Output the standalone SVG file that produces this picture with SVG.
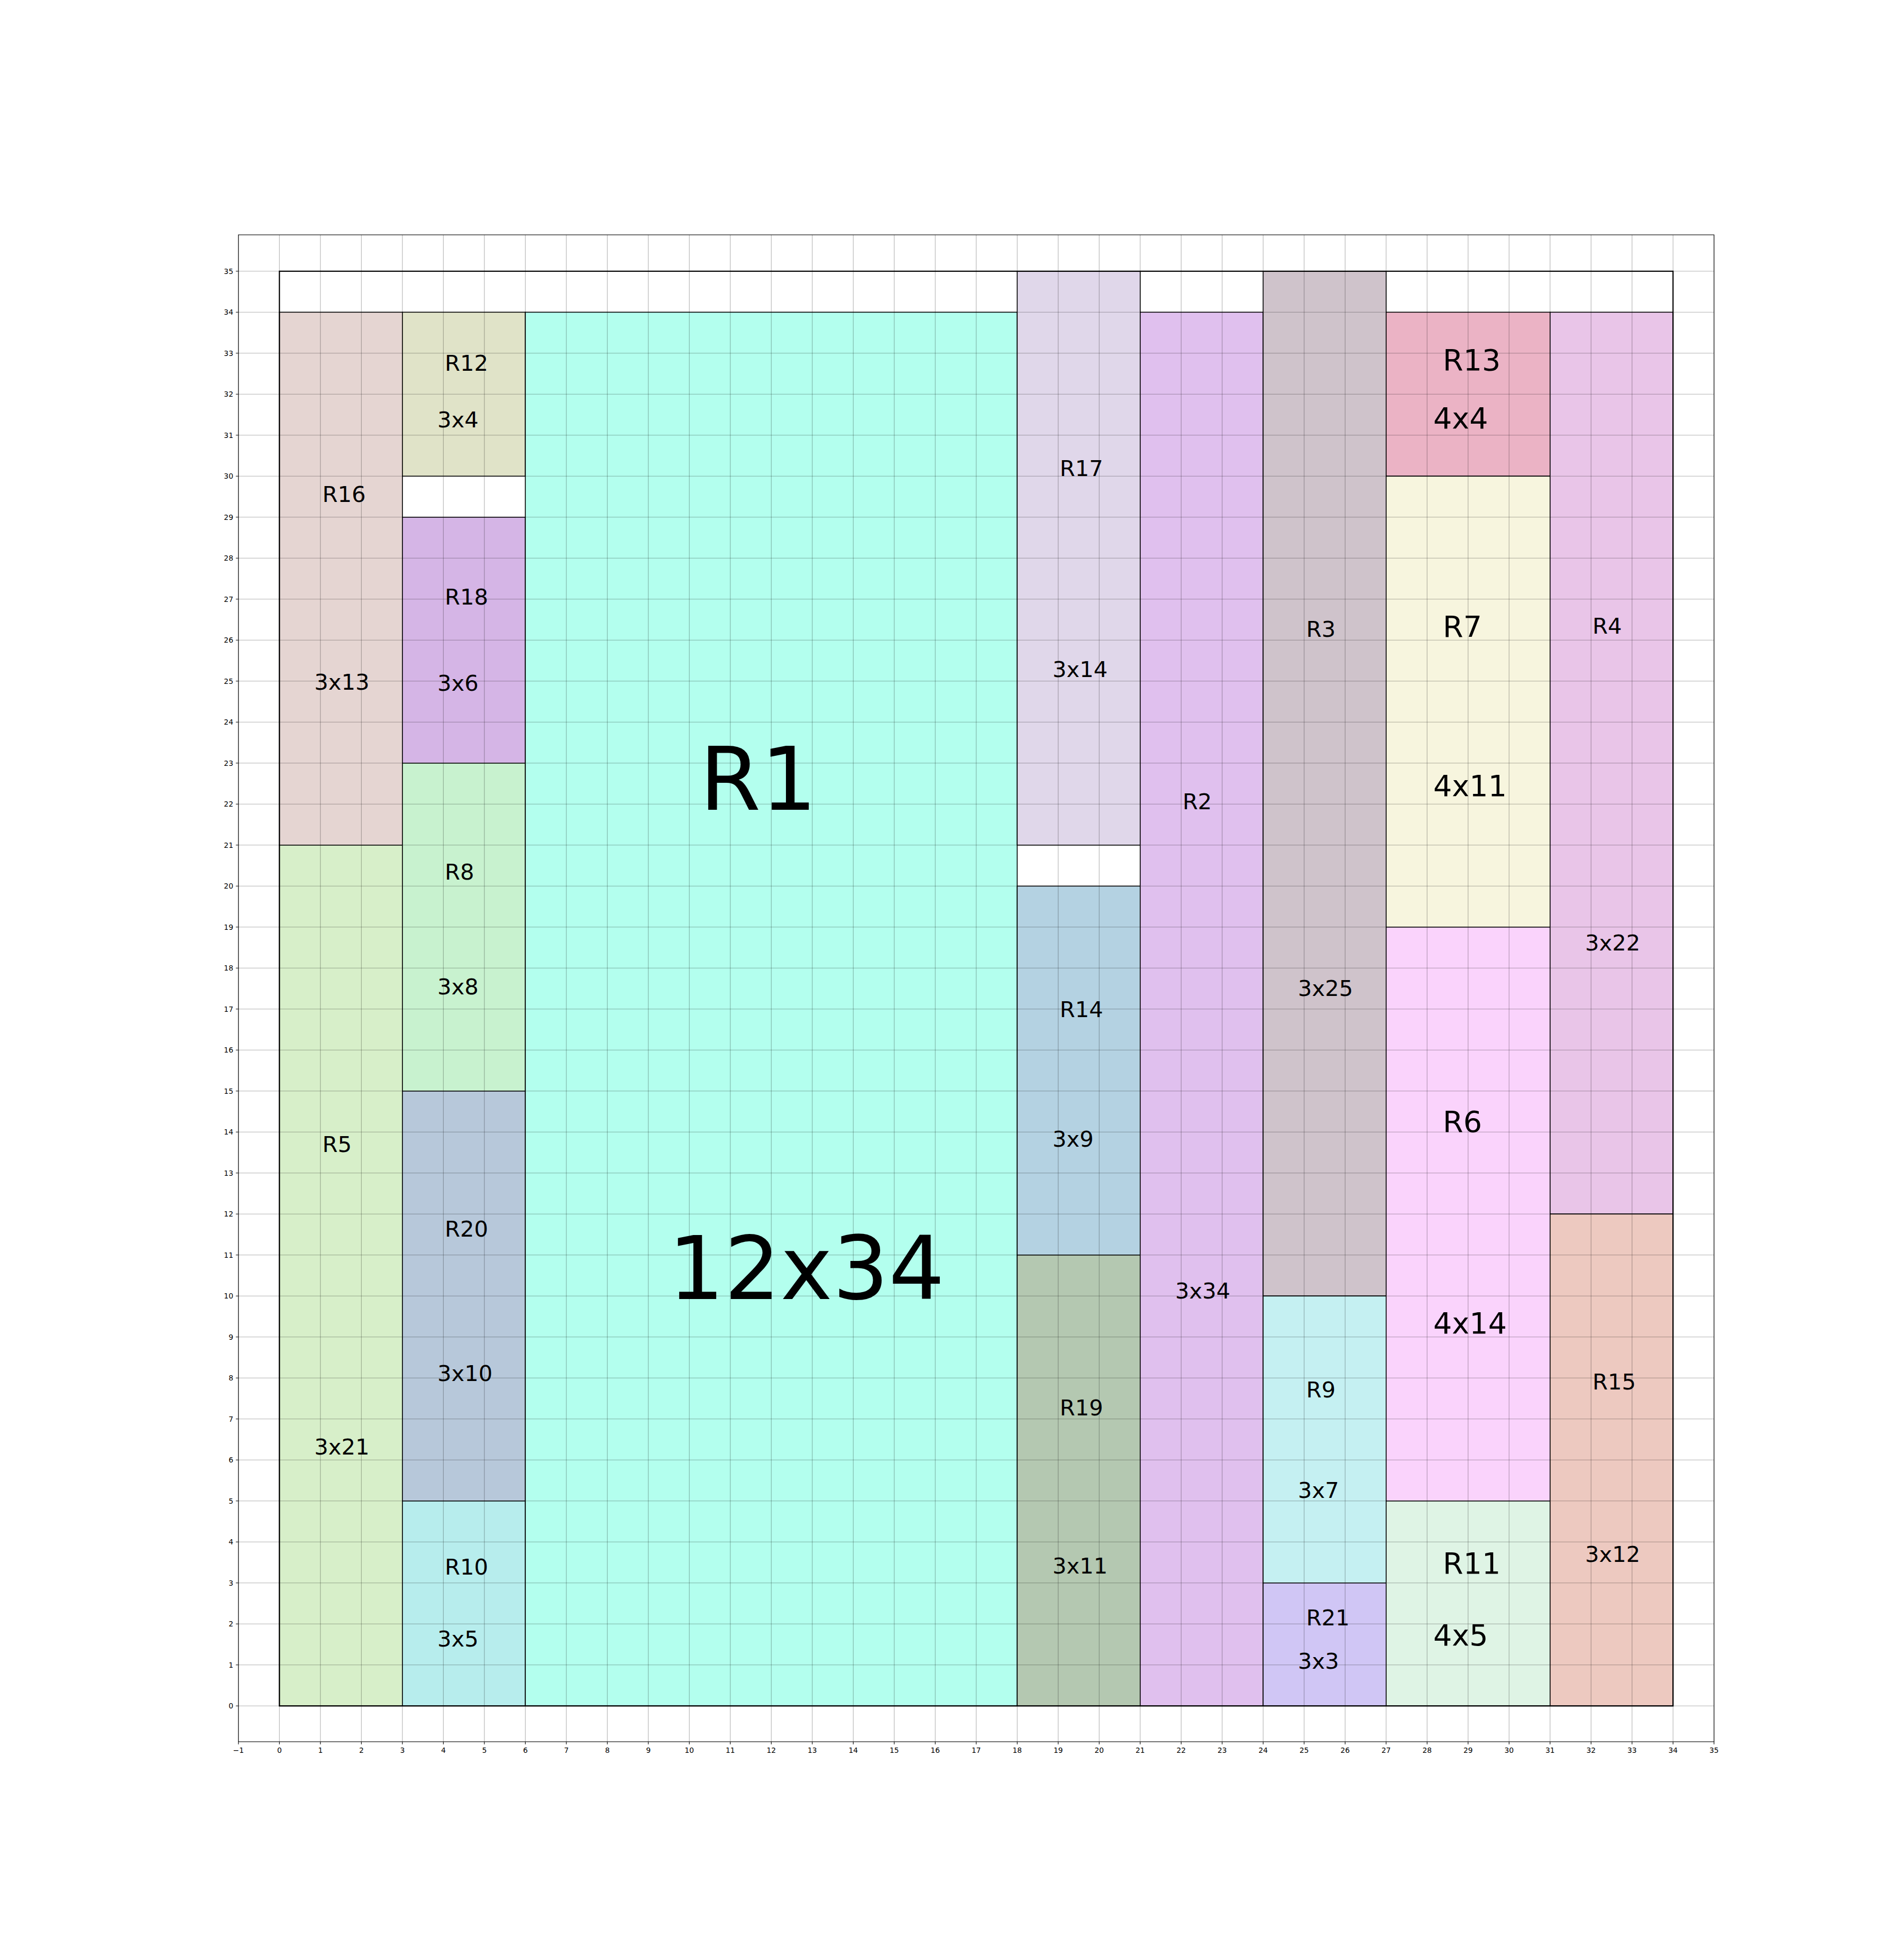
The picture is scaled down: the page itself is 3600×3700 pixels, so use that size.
<svg xmlns="http://www.w3.org/2000/svg" width="3600" height="3700" viewBox="0 0 3600 3700">
<style>
.bg{fill:#ffffff}
.r{stroke:#000000;stroke-width:1.6}
.box{fill:none;stroke:#000000;stroke-width:2.2}
.grid{fill:none;stroke:#000000;stroke-opacity:0.3;stroke-width:1.1}
.frame{fill:none;stroke:#000000;stroke-width:1.1}
.tick{fill:none;stroke:#000000;stroke-width:1.1}
text{font-family:"DejaVu Sans","Liberation Sans",sans-serif;fill:#000000}
.s{font-size:41.7px}
.m{font-size:55.6px}
.l{font-size:166.7px}
.tx{font-size:13.9px;text-anchor:middle}
.ty{font-size:13.9px;text-anchor:end}
</style>
<rect class="bg" x="0" y="0" width="3600" height="3700"/>

<g id="container">
<rect x="528.3" y="512.8" width="2635" height="2712.5" fill="#ffffff" stroke="none"/>
</g>

<g id="R16"><rect class="r" x="528.3" y="590.3" width="232.5" height="1007.5" fill="#e5d5d2"/>
<text class="s" x="609.6" y="948.6">R16</text><text class="s" x="594.3" y="1303.9">3x13</text></g>
<g id="R5"><rect class="r" x="528.3" y="1597.8" width="232.5" height="1627.5" fill="#d7efc9"/>
<text class="s" x="609.6" y="2178.2">R5</text><text class="s" x="594.3" y="2750.2">3x21</text></g>
<g id="R12"><rect class="r" x="760.8" y="590.3" width="232.5" height="310" fill="#e0e3c8"/>
<text class="s" x="841" y="701.2">R12</text><text class="s" x="827" y="808.3">3x4</text></g>
<g id="R18"><rect class="r" x="760.8" y="977.8" width="232.5" height="465" fill="#d5b5e6"/>
<text class="s" x="841" y="1143">R18</text><text class="s" x="827" y="1305.8">3x6</text></g>
<g id="R8"><rect class="r" x="760.8" y="1442.8" width="232.5" height="620" fill="#c8f2cf"/>
<text class="s" x="841" y="1662.9">R8</text><text class="s" x="827" y="1879.7">3x8</text></g>
<g id="R20"><rect class="r" x="760.8" y="2062.8" width="232.5" height="775" fill="#b7c8da"/>
<text class="s" x="841" y="2337.6">R20</text><text class="s" x="827" y="2611.4">3x10</text></g>
<g id="R10"><rect class="r" x="760.8" y="2837.8" width="232.5" height="387.5" fill="#b7eded"/>
<text class="s" x="841" y="2977">R10</text><text class="s" x="827" y="3112.9">3x5</text></g>
<g id="R1"><rect class="r" x="993.3" y="590.3" width="930" height="2635" fill="#b3ffee"/>
<text class="l" x="1322.7" y="1531.2">R1</text><text class="l" x="1263.4" y="2456">12x34</text></g>
<g id="R17"><rect class="r" x="1923.3" y="512.8" width="232.5" height="1085" fill="#e0d7ea"/>
<text class="s" x="2003.7" y="900">R17</text><text class="s" x="1990" y="1279.8">3x14</text></g>
<g id="R14"><rect class="r" x="1923.3" y="1675.3" width="232.5" height="697.5" fill="#b4d2e2"/>
<text class="s" x="2003.7" y="1922.6">R14</text><text class="s" x="1990" y="2168">3x9</text></g>
<g id="R19"><rect class="r" x="1923.3" y="2372.8" width="232.5" height="852.5" fill="#b4c8b1"/>
<text class="s" x="2003.7" y="2675.5">R19</text><text class="s" x="1990" y="2974.6">3x11</text></g>
<g id="R2"><rect class="r" x="2155.8" y="590.3" width="232.5" height="2635" fill="#e0c0ee"/>
<text class="s" x="2235.9" y="1530">R2</text><text class="s" x="2222" y="2455">3x34</text></g>
<g id="R3"><rect class="r" x="2388.3" y="512.8" width="232.5" height="1937.5" fill="#cfc3cb"/>
<text class="s" x="2469.7" y="1204">R3</text><text class="s" x="2454" y="1883">3x25</text></g>
<g id="R9"><rect class="r" x="2388.3" y="2450.3" width="232.5" height="542.5" fill="#c5f0f2"/>
<text class="s" x="2469.7" y="2641.6">R9</text><text class="s" x="2454" y="2832">3x7</text></g>
<g id="R21"><rect class="r" x="2388.3" y="2992.8" width="232.5" height="232.5" fill="#d0c6f5"/>
<text class="s" x="2469.7" y="3073.3">R21</text><text class="s" x="2454" y="3154.8">3x3</text></g>
<g id="R13"><rect class="r" x="2620.8" y="590.3" width="310" height="310" fill="#ebb3c5"/>
<text class="m" x="2728" y="700">R13</text><text class="m" x="2710" y="810.2">4x4</text></g>
<g id="R7"><rect class="r" x="2620.8" y="900.3" width="310" height="852.5" fill="#f7f5de"/>
<text class="m" x="2728" y="1204">R7</text><text class="m" x="2710" y="1504.5">4x11</text></g>
<g id="R6"><rect class="r" x="2620.8" y="1752.8" width="310" height="1085" fill="#fad3fc"/>
<text class="m" x="2728" y="2139.5">R6</text><text class="m" x="2710" y="2520.5">4x14</text></g>
<g id="R11"><rect class="r" x="2620.8" y="2837.8" width="310" height="387.5" fill="#dff4e5"/>
<text class="m" x="2728" y="2974.6">R11</text><text class="m" x="2710" y="3110.6">4x5</text></g>
<g id="R4"><rect class="r" x="2930.8" y="590.3" width="232.5" height="1705" fill="#e9c5e8"/>
<text class="s" x="3011" y="1198">R4</text><text class="s" x="2997" y="1796.6">3x22</text></g>
<g id="R15"><rect class="r" x="2930.8" y="2295.3" width="232.5" height="930" fill="#edc9c0"/>
<text class="s" x="3011" y="2627.3">R15</text><text class="s" x="2997" y="2952.8">3x12</text></g>

<g id="grid">
<path class="grid" d="M450.8 444V3293M528.3 444V3293M605.8 444V3293M683.3 444V3293M760.8 444V3293M838.3 444V3293M915.8 444V3293M993.3 444V3293M1070.8 444V3293M1148.3 444V3293M1225.8 444V3293M1303.3 444V3293M1380.8 444V3293M1458.3 444V3293M1535.8 444V3293M1613.3 444V3293M1690.8 444V3293M1768.3 444V3293M1845.8 444V3293M1923.3 444V3293M2000.8 444V3293M2078.3 444V3293M2155.8 444V3293M2233.3 444V3293M2310.8 444V3293M2388.3 444V3293M2465.8 444V3293M2543.3 444V3293M2620.8 444V3293M2698.3 444V3293M2775.8 444V3293M2853.3 444V3293M2930.8 444V3293M3008.3 444V3293M3085.8 444V3293M3163.3 444V3293M3240.8 444V3293"/>
<path class="grid" d="M450.8 3225.3H3240.8M450.8 3147.8H3240.8M450.8 3070.3H3240.8M450.8 2992.8H3240.8M450.8 2915.3H3240.8M450.8 2837.8H3240.8M450.8 2760.3H3240.8M450.8 2682.8H3240.8M450.8 2605.3H3240.8M450.8 2527.8H3240.8M450.8 2450.3H3240.8M450.8 2372.8H3240.8M450.8 2295.3H3240.8M450.8 2217.8H3240.8M450.8 2140.3H3240.8M450.8 2062.8H3240.8M450.8 1985.3H3240.8M450.8 1907.8H3240.8M450.8 1830.3H3240.8M450.8 1752.8H3240.8M450.8 1675.3H3240.8M450.8 1597.8H3240.8M450.8 1520.3H3240.8M450.8 1442.8H3240.8M450.8 1365.3H3240.8M450.8 1287.8H3240.8M450.8 1210.3H3240.8M450.8 1132.8H3240.8M450.8 1055.3H3240.8M450.8 977.8H3240.8M450.8 900.3H3240.8M450.8 822.8H3240.8M450.8 745.3H3240.8M450.8 667.8H3240.8M450.8 590.3H3240.8M450.8 512.8H3240.8"/>
</g>

<g id="outline">
<rect class="box" x="528.3" y="512.8" width="2635" height="2712.5"/>
</g>

<g id="axes">
<rect class="frame" x="450.8" y="444" width="2790" height="2849"/>
<path class="tick" d="M450.8 3293v4.9M528.3 3293v4.9M605.8 3293v4.9M683.3 3293v4.9M760.8 3293v4.9M838.3 3293v4.9M915.8 3293v4.9M993.3 3293v4.9M1070.8 3293v4.9M1148.3 3293v4.9M1225.8 3293v4.9M1303.3 3293v4.9M1380.8 3293v4.9M1458.3 3293v4.9M1535.8 3293v4.9M1613.3 3293v4.9M1690.8 3293v4.9M1768.3 3293v4.9M1845.8 3293v4.9M1923.3 3293v4.9M2000.8 3293v4.9M2078.3 3293v4.9M2155.8 3293v4.9M2233.3 3293v4.9M2310.8 3293v4.9M2388.3 3293v4.9M2465.8 3293v4.9M2543.3 3293v4.9M2620.8 3293v4.9M2698.3 3293v4.9M2775.8 3293v4.9M2853.3 3293v4.9M2930.8 3293v4.9M3008.3 3293v4.9M3085.8 3293v4.9M3163.3 3293v4.9M3240.8 3293v4.9"/>
<path class="tick" d="M450.8 3225.3h-4.9M450.8 3147.8h-4.9M450.8 3070.3h-4.9M450.8 2992.8h-4.9M450.8 2915.3h-4.9M450.8 2837.8h-4.9M450.8 2760.3h-4.9M450.8 2682.8h-4.9M450.8 2605.3h-4.9M450.8 2527.8h-4.9M450.8 2450.3h-4.9M450.8 2372.8h-4.9M450.8 2295.3h-4.9M450.8 2217.8h-4.9M450.8 2140.3h-4.9M450.8 2062.8h-4.9M450.8 1985.3h-4.9M450.8 1907.8h-4.9M450.8 1830.3h-4.9M450.8 1752.8h-4.9M450.8 1675.3h-4.9M450.8 1597.8h-4.9M450.8 1520.3h-4.9M450.8 1442.8h-4.9M450.8 1365.3h-4.9M450.8 1287.8h-4.9M450.8 1210.3h-4.9M450.8 1132.8h-4.9M450.8 1055.3h-4.9M450.8 977.8h-4.9M450.8 900.3h-4.9M450.8 822.8h-4.9M450.8 745.3h-4.9M450.8 667.8h-4.9M450.8 590.3h-4.9M450.8 512.8h-4.9"/>
<g>
<text class="tx" x="450.8" y="3314">−1</text><text class="tx" x="528.3" y="3314">0</text><text class="tx" x="605.8" y="3314">1</text><text class="tx" x="683.3" y="3314">2</text><text class="tx" x="760.8" y="3314">3</text><text class="tx" x="838.3" y="3314">4</text><text class="tx" x="915.8" y="3314">5</text><text class="tx" x="993.3" y="3314">6</text><text class="tx" x="1070.8" y="3314">7</text><text class="tx" x="1148.3" y="3314">8</text><text class="tx" x="1225.8" y="3314">9</text><text class="tx" x="1303.3" y="3314">10</text><text class="tx" x="1380.8" y="3314">11</text><text class="tx" x="1458.3" y="3314">12</text><text class="tx" x="1535.8" y="3314">13</text><text class="tx" x="1613.3" y="3314">14</text><text class="tx" x="1690.8" y="3314">15</text><text class="tx" x="1768.3" y="3314">16</text><text class="tx" x="1845.8" y="3314">17</text><text class="tx" x="1923.3" y="3314">18</text><text class="tx" x="2000.8" y="3314">19</text><text class="tx" x="2078.3" y="3314">20</text><text class="tx" x="2155.8" y="3314">21</text><text class="tx" x="2233.3" y="3314">22</text><text class="tx" x="2310.8" y="3314">23</text><text class="tx" x="2388.3" y="3314">24</text><text class="tx" x="2465.8" y="3314">25</text><text class="tx" x="2543.3" y="3314">26</text><text class="tx" x="2620.8" y="3314">27</text><text class="tx" x="2698.3" y="3314">28</text><text class="tx" x="2775.8" y="3314">29</text><text class="tx" x="2853.3" y="3314">30</text><text class="tx" x="2930.8" y="3314">31</text><text class="tx" x="3008.3" y="3314">32</text><text class="tx" x="3085.8" y="3314">33</text><text class="tx" x="3163.3" y="3314">34</text><text class="tx" x="3240.8" y="3314">35</text>
</g>
<g>
<text class="ty" x="441" y="3230.3">0</text><text class="ty" x="441" y="3152.8">1</text><text class="ty" x="441" y="3075.3">2</text><text class="ty" x="441" y="2997.8">3</text><text class="ty" x="441" y="2920.3">4</text><text class="ty" x="441" y="2842.8">5</text><text class="ty" x="441" y="2765.3">6</text><text class="ty" x="441" y="2687.8">7</text><text class="ty" x="441" y="2610.3">8</text><text class="ty" x="441" y="2532.8">9</text><text class="ty" x="441" y="2455.3">10</text><text class="ty" x="441" y="2377.8">11</text><text class="ty" x="441" y="2300.3">12</text><text class="ty" x="441" y="2222.8">13</text><text class="ty" x="441" y="2145.3">14</text><text class="ty" x="441" y="2067.8">15</text><text class="ty" x="441" y="1990.3">16</text><text class="ty" x="441" y="1912.8">17</text><text class="ty" x="441" y="1835.3">18</text><text class="ty" x="441" y="1757.8">19</text><text class="ty" x="441" y="1680.3">20</text><text class="ty" x="441" y="1602.8">21</text><text class="ty" x="441" y="1525.3">22</text><text class="ty" x="441" y="1447.8">23</text><text class="ty" x="441" y="1370.3">24</text><text class="ty" x="441" y="1292.8">25</text><text class="ty" x="441" y="1215.3">26</text><text class="ty" x="441" y="1137.8">27</text><text class="ty" x="441" y="1060.3">28</text><text class="ty" x="441" y="982.8">29</text><text class="ty" x="441" y="905.3">30</text><text class="ty" x="441" y="827.8">31</text><text class="ty" x="441" y="750.3">32</text><text class="ty" x="441" y="672.8">33</text><text class="ty" x="441" y="595.3">34</text><text class="ty" x="441" y="517.8">35</text>
</g>
</g>
</svg>
